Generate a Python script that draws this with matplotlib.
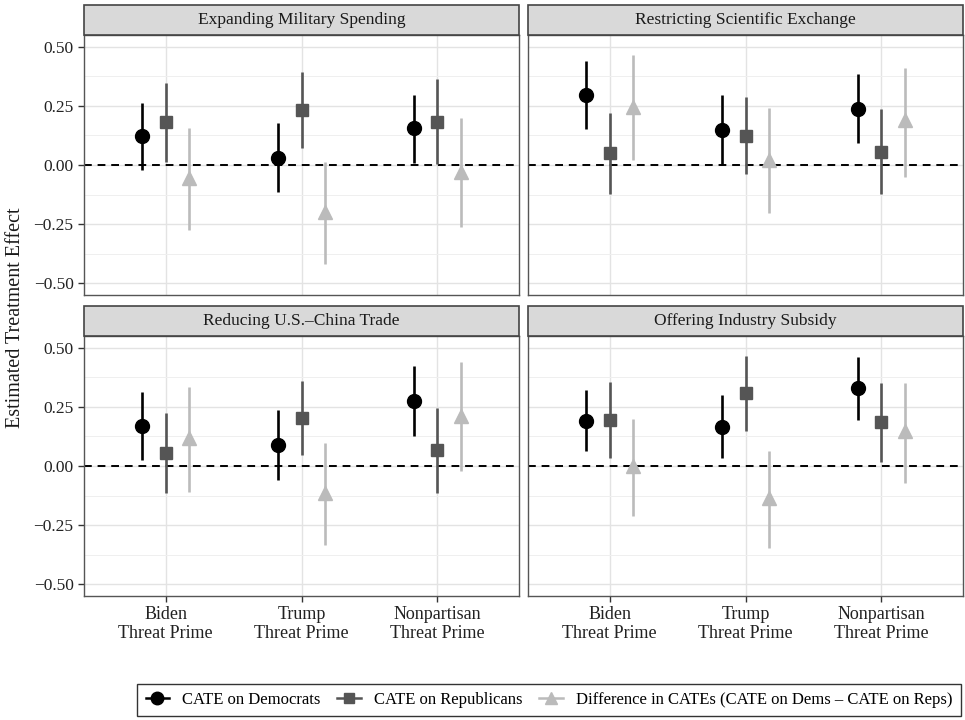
import numpy as np
import matplotlib
matplotlib.use("Agg")
import matplotlib.pyplot as plt
from matplotlib.lines import Line2D
from matplotlib.patches import Rectangle

plt.rcParams['font.family'] = ['Liberation Serif', 'DejaVu Serif']

# Data
primes = ['Biden\nThreat Prime', 'Trump\nThreat Prime', 'Nonpartisan\nThreat Prime']
panels = ['Expanding Military Spending', 'Restricting Scientific Exchange',
          'Reducing U.S.\u2013China Trade', 'Offering Industry Subsidy']
series = ['CATE on Democrats', 'CATE on Republicans',
          'Difference in CATEs (CATE on Dems \u2013 CATE on Reps)']

# estimates per panel, rows: Dem, Rep, Diff; columns: Biden, Trump, Nonpartisan
est = {
    'Expanding Military Spending':     [[0.123, 0.031, 0.155], [0.180, 0.232, 0.183], [-0.056, -0.197, -0.028]],
    'Restricting Scientific Exchange': [[0.296, 0.148, 0.239], [0.049, 0.124, 0.056], [0.246, 0.021, 0.190]],
    'Reducing U.S.\u2013China Trade':  [[0.169, 0.090, 0.273], [0.055, 0.203, 0.066], [0.119, -0.113, 0.213]],
    'Offering Industry Subsidy':       [[0.192, 0.167, 0.329], [0.195, 0.307, 0.185], [0.000, -0.137, 0.150]],
}
lower = {
    'Expanding Military Spending':     [[-0.021, -0.115, 0.010], [0.014, 0.070, 0.004], [-0.277, -0.420, -0.261]],
    'Restricting Scientific Exchange': [[0.151, 0.001, 0.092], [-0.123, -0.039, -0.123], [0.021, -0.201, -0.052]],
    'Reducing U.S.\u2013China Trade':  [[0.024, -0.060, 0.126], [-0.116, 0.048, -0.113], [-0.109, -0.333, -0.022]],
    'Offering Industry Subsidy':       [[0.062, 0.034, 0.196], [0.035, 0.150, 0.017], [-0.211, -0.347, -0.070]],
}
upper = {
    'Expanding Military Spending':     [[0.263, 0.176, 0.296], [0.348, 0.392, 0.362], [0.158, 0.014, 0.197]],
    'Restricting Scientific Exchange': [[0.439, 0.296, 0.387], [0.218, 0.289, 0.235], [0.465, 0.242, 0.411]],
    'Reducing U.S.\u2013China Trade':  [[0.315, 0.238, 0.423], [0.223, 0.360, 0.244], [0.336, 0.097, 0.440]],
    'Offering Industry Subsidy':       [[0.322, 0.300, 0.462], [0.356, 0.465, 0.350], [0.199, 0.063, 0.353]],
}

colors = ['black', '#555555', '#BBBBBB']
markers = ['o', 's', '^']
msizes = [10, 8.5, 10]
dodge = [-0.17, 0.0, 0.17]

W, H = 965, 720
fig = plt.figure(figsize=(W / 100, H / 100), dpi=100)

# panel boxes in pixels: (left, top, width, height)
boxes = [(84, 35, 435, 260), (528, 35, 435, 260),
         (84, 336, 435, 260), (528, 336, 435, 260)]
strip_h = 30

x = np.arange(len(primes))
for i, (name, (l, t, w, h)) in enumerate(zip(panels, boxes)):
    ax = fig.add_axes([l / W, 1 - (t + h) / H, w / W, h / H])
    for k in range(3):
        e = np.array(est[name][k])
        lo = np.array(lower[name][k])
        hi = np.array(upper[name][k])
        xs = x + dodge[k]
        ax.vlines(xs, lo, hi, color=colors[k], linewidth=1.9, zorder=3)
        ax.plot(xs, e, linestyle='none', marker=markers[k], color=colors[k],
                markersize=msizes[k], zorder=4)
    ax.axhline(0, color='black', linestyle=(0, (4, 3)), linewidth=1.4, zorder=2)
    ax.set_xlim(-0.6, 2.6)
    ax.set_ylim(-0.55, 0.55)
    ax.set_yticks([-0.5, -0.25, 0, 0.25, 0.5])
    ax.set_yticks([-0.375, -0.125, 0.125, 0.375], minor=True)
    ax.set_xticks(x)
    ax.grid(True, which='major', color='#E3E3E3', linewidth=1.0, zorder=0)
    ax.grid(True, which='minor', axis='y', color='#EFEFEF', linewidth=0.7, zorder=0)
    ax.tick_params(axis='y', which='minor', length=0)
    ax.tick_params(colors='#333333', labelcolor='#222222', labelsize=12.5, length=4, width=1)
    ax.set_axisbelow(True)
    for s in ax.spines.values():
        s.set_color('#555555')
        s.set_linewidth(1.0)
    if i % 2 == 0:
        ax.set_yticklabels(['\u22120.50', '\u22120.25', '0.00', '0.25', '0.50'])
    else:
        ax.tick_params(axis='y', which='both', left=False, labelleft=False)
    if i >= 2:
        ax.set_xticklabels(primes, linespacing=1.15, fontsize=13)
    else:
        ax.tick_params(axis='x', bottom=False, labelbottom=False)

    # strip header
    sax = fig.add_axes([l / W, 1 - t / H, w / W, strip_h / H])
    sax.set_xlim(0, 1)
    sax.set_ylim(0, 1)
    sax.add_patch(Rectangle((0, 0), 1, 1, facecolor='#D9D9D9', edgecolor='#444444',
                            linewidth=1.2, transform=sax.transAxes, clip_on=False))
    sax.text(0.5, 0.5, name, ha='center', va='center', fontsize=12.5, color='#1A1A1A')
    sax.axis('off')

fig.text(16 / W, 1 - 318 / H, 'Estimated Treatment Effect', rotation=90,
         ha='center', va='center', fontsize=14.5, color='#1A1A1A')

handles = [Line2D([0], [0], color=colors[k], marker=markers[k], markersize=msizes[k] * 0.9,
                  linewidth=1.8) for k in range(3)]
leg = fig.legend(handles, series, loc='center', bbox_to_anchor=(549 / W, 1 - 700 / H),
                 ncol=3, frameon=True, fontsize=12, handlelength=1.4, handletextpad=0.8,
                 columnspacing=1.0, borderpad=0.5, fancybox=False)
leg.get_frame().set_edgecolor('black')
leg.get_frame().set_linewidth(1.0)

fig.savefig('out.png', dpi=100)
